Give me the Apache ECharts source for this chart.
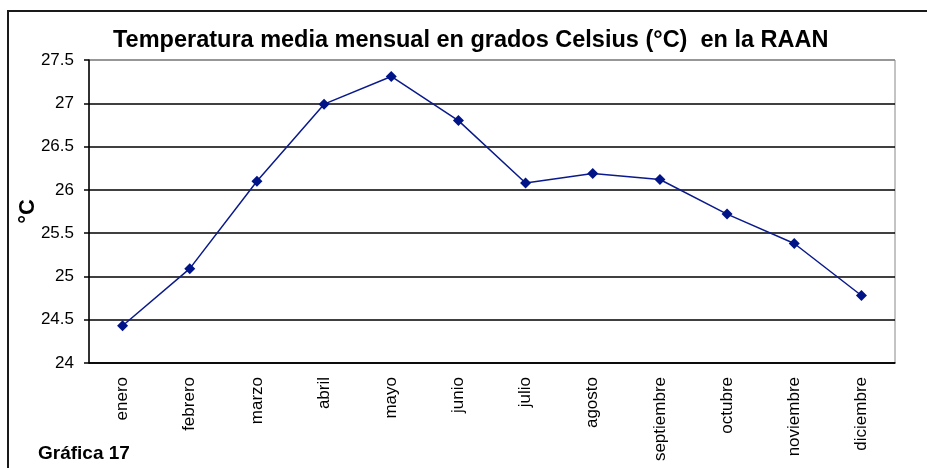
<!DOCTYPE html>
<html>
<head>
<meta charset="utf-8">
<script src="https://cdn.jsdelivr.net/npm/echarts@6/dist/echarts.min.js"></script>
<style>
  html, body { margin: 0; padding: 0; background: #fff; }
  #chart { width: 927px; height: 468px; }
</style>
</head>
<body>
<div id="chart"></div>
<script>
// meses (eje x)
var meses = ['enero', 'febrero', 'marzo', 'abril', 'mayo', 'junio', 'julio',
  'agosto', 'septiembre', 'octubre', 'noviembre', 'diciembre'];
// temperatura media mensual (°C)
var temperatura = [24.43, 25.09, 26.1, 26.99, 27.31, 26.8, 26.08, 26.19, 26.12, 25.72, 25.38, 24.78];
// eje y
var yMin = 24;
var yMax = 27.5;
var yPaso = 0.5;

var fuente = 'Liberation Sans, Arial, sans-serif';

var myChart = echarts.init(document.getElementById('chart'));
myChart.setOption({
  animation: false,
  title: {
    text: 'Temperatura media mensual en grados Celsius (°C)  en la RAAN',
    left: 108,
    top: 24,
    textStyle: { fontFamily: fuente, fontSize: 23.5, fontWeight: 'bold', color: '#000' }
  },
  graphic: [
    { // marco exterior
      type: 'rect',
      shape: { x: 8, y: 11, width: 1000, height: 1000 },
      style: { fill: 'none', stroke: '#1a1a1a', lineWidth: 2 },
      silent: true
    },
    {
      type: 'text',
      left: 38,
      top: 444,
      style: { text: 'Gráfica 17', font: 'bold 19px ' + fuente, fill: '#000' }
    }
  ],
  grid: {
    left: 89, right: 32, top: 60, bottom: 105,
    show: true, borderColor: '#888', borderWidth: 1
  },
  xAxis: {
    type: 'category',
    data: meses,
    axisLine: { lineStyle: { color: '#000', width: 1.5 } },
    axisTick: { length: 5, lineStyle: { color: '#000', width: 1.5 } },
    axisLabel: { rotate: 90, margin: 14, fontFamily: fuente, fontSize: 17, color: '#000' },
    splitLine: { show: false }
  },
  yAxis: {
    type: 'value',
    min: yMin,
    max: yMax,
    interval: yPaso,
    name: '°C',
    nameLocation: 'middle',
    nameRotate: 90,
    nameGap: 50,
    nameMoveOverlap: false,
    nameTextStyle: { fontFamily: fuente, fontSize: 22, fontWeight: 'bold', color: '#000' },
    axisLine: { show: true, lineStyle: { color: '#000', width: 1.5 } },
    axisTick: { show: true, length: 5, lineStyle: { color: '#000', width: 1.5 } },
    axisLabel: { margin: 15, fontFamily: fuente, fontSize: 17, color: '#000' },
    splitLine: {
      lineStyle: {
        color: ['#000', '#000', '#000', '#000', '#000', '#000', '#000', '#888'],
        width: 1.5
      }
    }
  },
  series: [{
    type: 'line',
    data: temperatura,
    symbol: 'diamond',
    symbolSize: 11,
    lineStyle: { color: '#0a1a8c', width: 1.5 },
    itemStyle: { color: '#001488' }
  }]
});
</script>
</body>
</html>
